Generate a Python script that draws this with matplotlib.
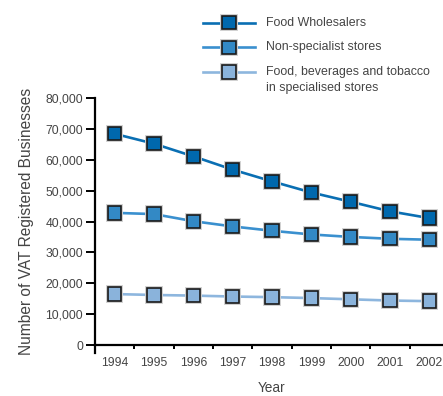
import matplotlib
matplotlib.use("Agg")
import matplotlib.pyplot as plt
from matplotlib.lines import Line2D
import matplotlib.patheffects as pe

plt.rcParams['font.family'] = ['Liberation Sans', 'DejaVu Sans']

years = ['1994', '1995', '1996', '1997', '1998', '1999', '2000', '2001', '2002']
food_wholesalers = [68400, 65200, 61100, 56800, 53000, 49400, 46400, 43300, 41100]
non_specialist = [42800, 42400, 40100, 38400, 37000, 35800, 35000, 34400, 34100]
specialised = [16500, 16200, 16000, 15700, 15500, 15200, 14800, 14400, 14200]

series = [
    ("Food Wholesalers", food_wholesalers, '#0a6fb3', '#0068ad'),
    ("Non-specialist stores", non_specialist, '#3a90cf', '#3389c5'),
    ("Food, beverages and tobacco\nin specialised stores", specialised, '#8db6de', '#8ab3db'),
]

text_col = '#444444'
W, H = 443, 396
fig = plt.figure(figsize=(W / 100, H / 100), dpi=100)
ax = fig.add_axes([95 / W, 1 - 345 / H, (449 - 95) / W, (345 - 98) / H])

x = list(range(len(years)))
halo = [pe.Stroke(linewidth=2.8, foreground='#cfcfcf'), pe.Normal()]
for label, vals, lc, mc in series:
    ax.plot(x, vals, color=lc, lw=1.9, zorder=2)
    ax.plot(x, vals, ls='none', marker='s', markersize=9.6, markerfacecolor=mc,
            markeredgecolor='#1a1a1a', markeredgewidth=1.2, zorder=3,
            path_effects=halo)

ax.set_xlim(-0.5, len(years) - 0.5)
ax.set_ylim(0, 80000)
ax.set_yticks(range(0, 80001, 10000))
ax.set_yticklabels([f"{v:,}" for v in range(0, 80001, 10000)])
ax.tick_params(axis='y', direction='out', length=6.5, width=1.4, colors='black',
               labelcolor=text_col, labelsize=8.7, pad=2)

ax.set_xticks(x)
ax.set_xticklabels(years)
ax.tick_params(axis='x', which='major', length=0, labelcolor=text_col, labelsize=8.7, pad=9)
ax.set_xticks([i + 0.5 for i in x[:-1]], minor=True)
ax.tick_params(axis='x', which='minor', direction='out', length=3, width=1.4, colors='black')

for s in ['top', 'right']:
    ax.spines[s].set_visible(False)
for s in ['left', 'bottom']:
    ax.spines[s].set_linewidth(1.6)
    ax.spines[s].set_color('black')

# extend left spine slightly below the x axis
fig.add_artist(Line2D([95 / W, 95 / W], [1 - 345 / H, 1 - 353 / H], color='black', lw=1.6))

ax.set_ylabel("Number of VAT Registered Businesses", fontsize=11.2, color=text_col)
ax.yaxis.set_label_coords(-0.172, 0.5)
fig.text(272 / W, 1 - 388 / H, "Year", fontsize=9.8, color=text_col, ha='center', va='center')

# legend
rows = [22.7, 47.3, 72]
for (label, vals, lc, mc), yy in zip(series, rows):
    fy = 1 - yy / H
    fig.add_artist(Line2D([203 / W, 255 / W], [fy, fy], color=lc, lw=1.9))
    fig.add_artist(Line2D([229 / W], [fy], ls='none', marker='s', markersize=9.6,
                          markerfacecolor=mc, markeredgecolor='#1a1a1a',
                          markeredgewidth=1.2, path_effects=halo))
    if '\n' in label:
        fig.text(266 / W, fy + 6.5 / H, label, fontsize=8.9, color=text_col,
                 ha='left', va='top', linespacing=1.45)
    else:
        fig.text(266 / W, fy, label, fontsize=8.9, color=text_col, ha='left', va='center')

fig.savefig("out.png", dpi=100)
